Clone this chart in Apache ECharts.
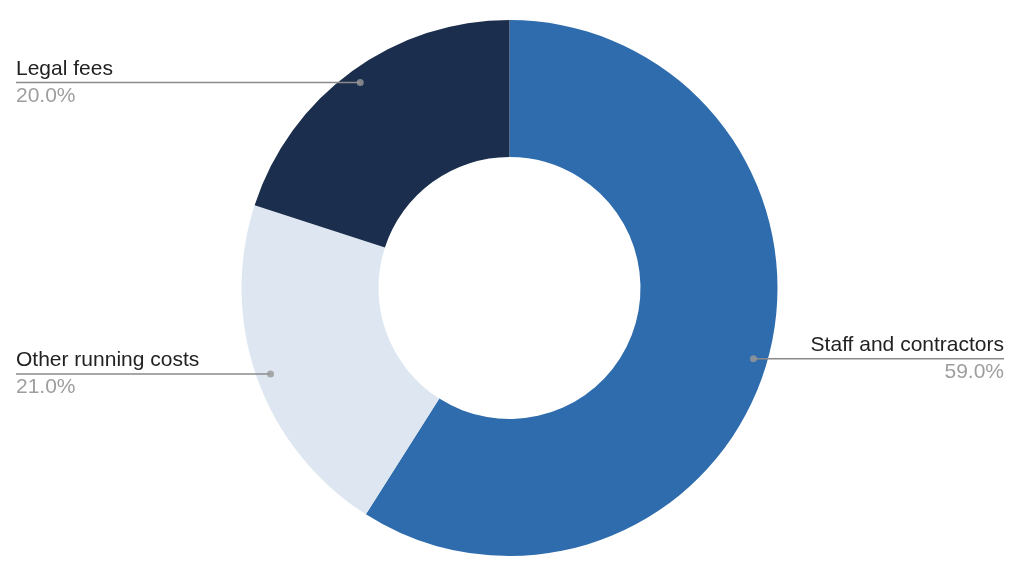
<!DOCTYPE html>
<html>
<head>
<meta charset="utf-8">
<script src="https://cdn.jsdelivr.net/npm/echarts@6/dist/echarts.min.js"></script>
<style>
html,body{margin:0;padding:0;background:#fff;}
#chart{width:1024px;height:587px;}
</style>
</head>
<body>
<div id="chart"></div>
<script>
var categories = ['Staff and contractors', 'Other running costs', 'Legal fees'];
var values = [59.0, 21.0, 20.0];
var colors = ['#2E6CAD', '#DEE7F1', '#1C2E4D'];

var chart = echarts.init(document.getElementById('chart'));
var W = 1024;
var center = [509.5, 288];
var outerR = 268, innerR = 131, dotR = 254;

var total = values.reduce(function (a, b) { return a + b; }, 0);
var cum = 0;
var dots = values.map(function (v) {
  var mid = cum + v / 2;
  cum += v;
  return [dotR, mid / total * 100];
});

var pieData = categories.map(function (c, i) {
  return { name: c, value: values[i], itemStyle: { color: colors[i] } };
});

chart.setOption({
  animation: false,
  polar: { center: center, radius: outerR },
  angleAxis: { type: 'value', min: 0, max: 100, startAngle: 90, clockwise: true, show: false },
  radiusAxis: { type: 'value', min: 0, max: outerR, show: false },
  series: [
    {
      type: 'pie',
      center: center,
      radius: [innerR, outerR],
      startAngle: 90,
      clockwise: true,
      label: { show: false },
      labelLine: { show: false },
      silent: true,
      data: pieData,
      z: 1
    },
    {
      type: 'pie',
      center: center,
      radius: [0, dotR],
      left: 0,
      right: 4,
      startAngle: 90,
      clockwise: true,
      silent: true,
      itemStyle: { color: 'rgba(0,0,0,0)' },
      z: 3,
      data: categories.map(function (c, i) { return { name: c, value: values[i] }; }),
      label: {
        show: true,
        position: 'outside',
        alignTo: 'edge',
        edgeDistance: 16,
        formatter: function (p) {
          return '{name|' + p.name + '}\n{pct|' + p.value.toFixed(1) + '%}';
        },
        rich: {
          name: { fontFamily: 'Liberation Sans, Arial, sans-serif', fontSize: 21, color: '#222', lineHeight: 27 },
          pct: { fontFamily: 'Liberation Sans, Arial, sans-serif', fontSize: 21, color: '#9E9E9E', lineHeight: 27 }
        }
      },
      labelLine: {
        show: true,
        length: 0,
        length2: 10,
        lineStyle: { color: '#8A8A8A', width: 1.5 }
      },
      labelLayout: function (params) {
        var isLeft = params.labelRect.x < W / 2;
        var points = params.labelLinePoints;
        points[2][0] = isLeft ? params.labelRect.x : params.labelRect.x + params.labelRect.width;
        return { labelLinePoints: points };
      }
    },
    {
      type: 'scatter',
      coordinateSystem: 'polar',
      data: dots,
      symbol: 'circle',
      symbolSize: 7,
      silent: true,
      itemStyle: { color: '#999999' },
      z: 4
    }
  ]
});
</script>
</body>
</html>
